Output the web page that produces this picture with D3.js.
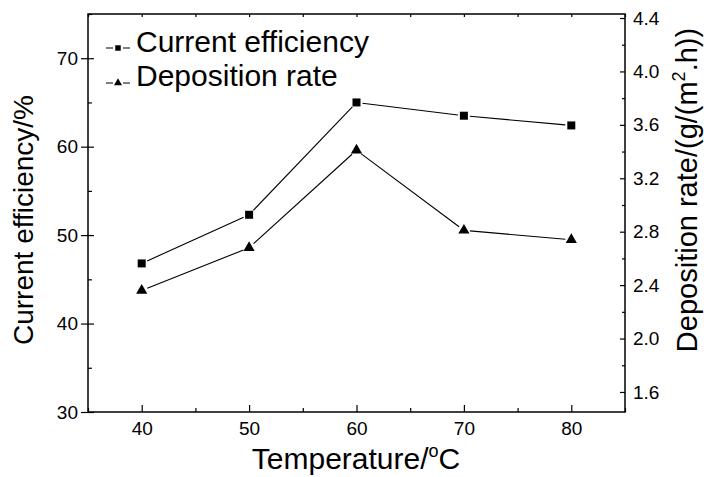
<!DOCTYPE html>
<html>
<head>
<meta charset="utf-8">
<script src="https://cdn.jsdelivr.net/npm/d3@7"></script>
<style>
    body { margin: 0; background: #fff; }
    svg { display: block; font-family: "Liberation Sans", Arial, sans-serif; }
</style>
</head>
<body>
<svg id="chart"></svg>
<script>
const width = 704;
const height = 477;

// data
const temperatures = [40, 50, 60, 70, 80];
const efficiency = [46.8, 52.3, 65.0, 63.5, 62.4];
const depositionRate = [2.36, 2.68, 3.41, 2.81, 2.74];

const xTicks = [40, 50, 60, 70, 80];
const xMinor = [35, 45, 55, 65, 75, 85];
const leftTicks = [30, 40, 50, 60, 70];
const leftMinor = [35, 45, 55, 65, 75];
const rightTicks = [1.6, 2.0, 2.4, 2.8, 3.2, 3.6, 4.0, 4.4];
const rightMinor = [1.8, 2.2, 2.6, 3.0, 3.4, 3.8, 4.2];

const legendLabels = ["Current efficiency", "Deposition rate"];

const plot = { left: 88, right: 625, top: 14, bottom: 412 };

const svg = d3.select("#chart")
    .attr("width", width)
    .attr("height", height);

const x = d3.scaleLinear().domain([35, 85]).range([plot.left, plot.right]);
const yLeft = d3.scaleLinear().domain([30, 75]).range([plot.bottom, plot.top]);
const yRight = d3.scaleLinear().domain([1.45, 4.43]).range([plot.bottom, plot.top]);

// axes
svg.append("g")
    .attr("transform", `translate(0,${plot.bottom})`)
    .call(d3.axisBottom(x).tickValues(xTicks).tickSize(-7).tickPadding(10).tickFormat(d3.format("d")));
svg.append("g")
    .attr("transform", `translate(0,${plot.bottom})`)
    .call(d3.axisBottom(x).tickValues(xMinor).tickSize(-4).tickFormat(""));

svg.append("g")
    .attr("transform", `translate(0,${plot.top})`)
    .call(d3.axisTop(x).tickValues(xTicks.concat(xMinor)).tickSize(-3).tickFormat(""));

// left majors cross the axis line
svg.append("g")
    .attr("transform", `translate(${plot.left},0)`)
    .call(d3.axisLeft(yLeft).tickValues(leftTicks).tickSize(7).tickPadding(3).tickFormat(d3.format("d")));
svg.append("g")
    .attr("transform", `translate(${plot.left},0)`)
    .call(d3.axisLeft(yLeft).tickValues(leftTicks).tickSize(-6).tickFormat(""));
svg.append("g")
    .attr("transform", `translate(${plot.left},0)`)
    .call(d3.axisLeft(yLeft).tickValues(leftMinor).tickSize(-4).tickFormat(""));

svg.append("g")
    .attr("transform", `translate(${plot.right},0)`)
    .call(d3.axisRight(yRight).tickValues(rightTicks).tickSize(-5).tickPadding(8).tickFormat(d3.format(".1f")));
svg.append("g")
    .attr("transform", `translate(${plot.right},0)`)
    .call(d3.axisRight(yRight).tickValues(rightMinor).tickSize(-3).tickFormat(""));

svg.selectAll(".domain").remove();
svg.selectAll(".tick line").attr("stroke", "#000").attr("stroke-width", 1.2);
svg.selectAll(".tick text")
    .attr("fill", "#000")
    .attr("font-size", 19)
    .attr("font-family", "Liberation Sans, Arial, sans-serif");

svg.append("rect")
    .attr("x", plot.left)
    .attr("y", plot.top)
    .attr("width", plot.right - plot.left)
    .attr("height", plot.bottom - plot.top)
    .attr("fill", "none")
    .attr("stroke", "#000")
    .attr("stroke-width", 1.5);

// line segments with small gaps around the symbols
function drawSeries(values, yScale, symbolType, symbolSize) {
    const pts = temperatures.map((t, i) => [x(t), yScale(values[i])]);
    const gap = 6;
    const segs = d3.pairs(pts).map(([a, b]) => {
        const dx = b[0] - a[0], dy = b[1] - a[1];
        const len = Math.hypot(dx, dy);
        const ux = dx / len, uy = dy / len;
        return [a[0] + ux * gap, a[1] + uy * gap, b[0] - ux * gap, b[1] - uy * gap];
    });
    svg.append("g").selectAll("line")
        .data(segs)
        .enter().append("line")
        .attr("x1", d => d[0]).attr("y1", d => d[1])
        .attr("x2", d => d[2]).attr("y2", d => d[3])
        .attr("stroke", "#000")
        .attr("stroke-width", 1.1);
    svg.append("g").selectAll("path")
        .data(pts)
        .enter().append("path")
        .attr("transform", d => `translate(${d[0]},${d[1]})`)
        .attr("d", d3.symbol().type(symbolType).size(symbolSize))
        .attr("fill", "#000");
}

drawSeries(efficiency, yLeft, d3.symbolSquare, 64);
drawSeries(depositionRate, yRight, d3.symbolTriangle, 54);

// legend
const legend = svg.append("g");
const legendRows = [
    { label: legendLabels[0], symbol: d3.symbolSquare, size: 30, y: 48, baseline: 52 },
    { label: legendLabels[1], symbol: d3.symbolTriangle, size: 28, y: 83, baseline: 86 }
];
legendRows.forEach(r => {
    legend.append("line").attr("x1", 106).attr("x2", 113).attr("y1", r.y).attr("y2", r.y)
        .attr("stroke", "#000").attr("stroke-width", 1);
    legend.append("line").attr("x1", 123).attr("x2", 130).attr("y1", r.y).attr("y2", r.y)
        .attr("stroke", "#000").attr("stroke-width", 1);
    legend.append("path")
        .attr("transform", `translate(118,${r.y})`)
        .attr("d", d3.symbol().type(r.symbol).size(r.size))
        .attr("fill", "#000");
    legend.append("text")
        .attr("x", 136)
        .attr("y", r.baseline)
        .attr("font-size", 30)
        .text(r.label);
});

// axis titles
svg.append("text")
    .attr("x", 356)
    .attr("y", 469)
    .attr("text-anchor", "middle")
    .attr("font-size", 30)
    .call(t => {
        t.append("tspan").text("Temperature/");
        t.append("tspan").attr("font-size", 18).attr("dy", -12).text("o");
        t.append("tspan").attr("dy", 12).text("C");
    });

svg.append("text")
    .attr("transform", "translate(33,220) rotate(-90)")
    .attr("text-anchor", "middle")
    .attr("font-size", 28)
    .text("Current efficiency/%");

svg.append("text")
    .attr("transform", "translate(697,190) rotate(-90)")
    .attr("text-anchor", "middle")
    .attr("font-size", 29)
    .call(t => {
        t.append("tspan").text("Deposition rate/(g/(m");
        t.append("tspan").attr("font-size", 18).attr("dy", -12).text("2");
        t.append("tspan").attr("dy", 12).text(".h))");
    });
</script>
</body>
</html>
